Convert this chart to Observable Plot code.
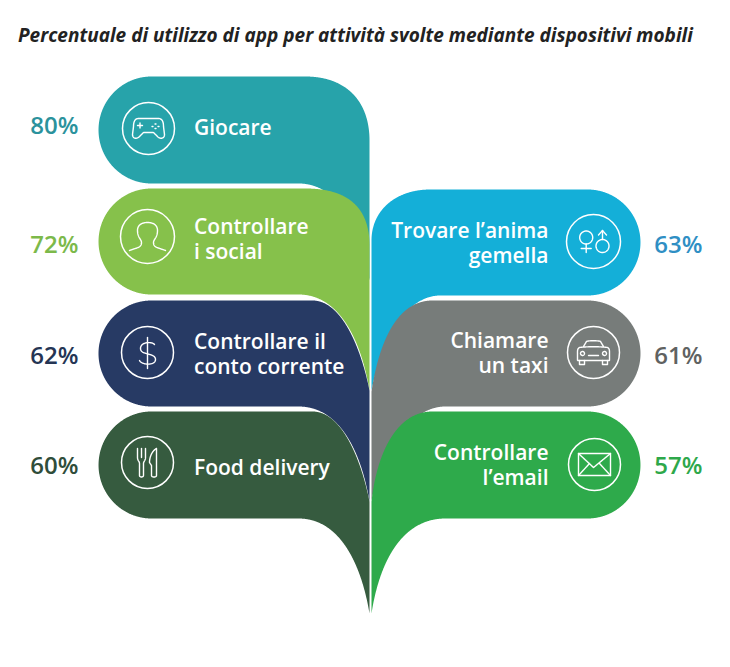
<!DOCTYPE html>
<html lang="it">
<head>
<meta charset="utf-8">
<script src="https://cdn.jsdelivr.net/npm/d3@7"></script>
<script src="https://cdn.jsdelivr.net/npm/@observablehq/plot@0.6"></script>
<style>
  html, body { margin: 0; padding: 0; background: #fff; }
  #title { height: 60px; box-sizing: border-box; padding: 24px 0 0 18px; font: italic 700 19px/22px "Open Sans", sans-serif; color: #222; white-space: nowrap; }
  svg { display: block; }
</style>
</head>
<body>
<div id="title">Percentuale di utilizzo di app per attività svolte mediante dispositivi mobili</div>
<div id="chart"></div>
<script>
// ---- data ----
const categories = ["Giocare", "Controllare\ni social", "Controllare il\nconto corrente", "Food delivery",
                    "Trovare l’anima\ngemella", "Chiamare\nun taxi", "Controllare\nl’email"];
const values = [80, 72, 62, 60, 63, 61, 57];
const sides = ["left", "left", "left", "left", "right", "right", "right"];
const icons = ["gamepad", "person", "dollar", "cutlery", "gender", "car", "mail"];
const fills = ["#27a3aa", "#86c14b", "#273a64", "#365b3f", "#14afd8", "#777c7a", "#2eaa4b"];
const valueColors = ["#2b929c", "#7cb94a", "#253554", "#2f4d3a", "#2f8fc4", "#5f6261", "#2ea84a"];

// ---- layout (page pixels) ----
const leafPaths = [
  "M151,76 H305 C345,76 369,100 369,140 V280 C361,232 340,183 298,183 H151 A53,53.5 0 0 1 151,76 Z",
  "M151,188 H305 C345,188 369,205 369,245 V390 C361,342 340,294 298,294 H151 A53,53 0 0 1 151,188 Z",
  "M151,300 H312 C342,300 361,350 369,390 V501 C361,453 340,406 298,406 H151 A53,53 0 0 1 151,300 Z",
  "M151,411 H312 C342,411 361,461 369,501 V613 C361,565 340,518 298,518 H151 A53,53.5 0 0 1 151,411 Z",
  "M371,240 C371,210 395,189 430,189 H587 A53,53 0 0 1 587,295 H440 C405,295 381,340 371,390 Z",
  "M371,391 C378,345 395,300 432,300 H587 A53,53 0 0 1 587,406 H445 C410,406 381,450 371,500 Z",
  "M371,501 C376,455 395,411 432,411 H587 A53,53.5 0 0 1 587,518 H445 C405,518 380,555 371,613 Z"
];
const layout = {
  left:  { pctX: 78,  labelX: 193.5, anchor: "start" },
  right: { pctX: 702, labelX: 548, anchor: "end" }
};
const labelY = [126.5, 238, 353, 466.5, 242, 352, 464];
const pctY = [126, 245, 356, 466, 245, 356, 466];
const iconX = [148, 147, 147, 147, 593, 593, 594];
const iconY = [128, 236, 352, 462, 241, 352, 464];
const iconR = [26, 27, 26, 26, 27, 26, 26];

function ring(cx, cy, r) {
  return `M${cx - r},${cy} A${r},${r} 0 1 1 ${cx + r},${cy} A${r},${r} 0 1 1 ${cx - r},${cy} Z`;
}
const iconPaths = {
  gamepad: "M-10,-10 C-14,-10 -15,-6 -15,-2 L-16,6 C-16,10 -12,11 -9,8 L-5,4 H5 L9,8 C12,11 16,10 16,6 L15,-2 C15,-6 14,-10 10,-10 Z M-11,-3 H-6 M-8.5,-5.5 V-0.5 M3.5,-2 H4.5 M6.5,-4.5 H7.5 M6.5,0 H7.5 M9.5,-2 H10.5",
  person: "M-18,14 C-10,11 -6,11 -6,6 C-6,3 -10,1 -10,-6 C-10,-12 -5,-14 0,-14 C5,-14 10,-12 10,-6 C10,1 6,3 6,6 C6,11 10,11 18,14",
  dollar: "M7,-8 C5,-11 -7,-11 -7,-4 C-7,3 8,0 8,7 C8,13 -5,13 -8,8 M0,-15 V16",
  cutlery: "M-10,-14 V-5 C-10,-2 -8,-1 -8,1 V13 C-8,15 -4,15 -4,13 V1 C-4,-1 -2,-2 -2,-5 V-14 M-6,-14 V-5 M9,-14 V13 C9,15 4,15 4,13 V3 L2,0 C2,-6 5,-12 9,-14 Z",
  gender: ring(-7.3, -4, 6.5) + " M-7.3,2.5 V11 M-12.3,7 H-2.3 " + ring(9, 4.5, 6.5) + " M9,-2 V-11 M5,-6.5 L9,-11 L13,-6.5",
  car: "M-10,-6 L-7,-11 C-6,-12 6,-12 7,-11 L10,-6 M-14,-5 C-16,-4 -16,-2 -16,0 V8 H16 V0 C16,-2 16,-4 14,-5 C8,-6 -8,-6 -14,-5 Z M-14,8 V12 H-9 V8 M9,8 V12 H14 V8 " + ring(-11, 1, 2) + " " + ring(11, 1, 2) + " M-5,3 H5",
  mail: "M-16,-11 H16 V11 H-16 Z M-16,-11 L-1,3 L16,-11 M-16,11 L-5,-1 M16,11 L5,-1"
};

// Trace an SVG path string into sampled points, one group per subpath.
function trace(d, dx = 0, dy = 0) {
  const subs = d.match(/M[^M]*/g);
  return subs.map(s => {
    const p = document.createElementNS("http://www.w3.org/2000/svg", "path");
    p.setAttribute("d", s);
    const n = p.getTotalLength();
    const step = 0.5;
    const pts = d3.range(0, n + step, step).map(l => {
      const q = p.getPointAtLength(Math.min(l, n));
      return [q.x + dx, q.y + dy];
    });
    return pts;
  });
}

const leaves = categories.flatMap((c, i) =>
  trace(leafPaths[i])[0].map(([x, y]) => ({ x, y, key: c, color: fills[i] })));

const iconLines = icons.flatMap((k, i) =>
  trace(iconPaths[k], iconX[i], iconY[i]).flatMap((pts, j) =>
    pts.map(([x, y]) => ({ x, y, key: `${k}-${j}` }))));

const rows = categories.map((c, i) => ({
  label: c,
  value: `${values[i]}%`,
  textX: layout[sides[i]].labelX,
  pctX: layout[sides[i]].pctX,
  anchor: layout[sides[i]].anchor,
  labelY: labelY[i],
  pctY: pctY[i],
  iconX: iconX[i],
  iconY: iconY[i],
  iconR: iconR[i],
  color: valueColors[i]
}));

const chart = Plot.plot({
  width: 730,
  height: 607,
  margin: 0,
  x: { domain: [0, 730], range: [0, 730], axis: null },
  y: { domain: [60, 667], range: [0, 607], axis: null },
  r: { type: "identity" },
  color: { type: "identity" },
  style: { fontFamily: "'Open Sans', sans-serif", background: "#fff", overflow: "visible" },
  marks: [
    Plot.line(leaves, { x: "x", y: "y", z: "key", fill: "color", stroke: null, curve: "linear" }),
    Plot.dot(rows, { x: "iconX", y: "iconY", r: "iconR", stroke: "#fff", strokeWidth: 1.5, fill: "none" }),
    Plot.line(iconLines, { x: "x", y: "y", z: "key", stroke: "#fff", strokeWidth: 1.4, curve: "linear" }),
    ...["start", "end"].map(a => Plot.text(rows.filter(r => r.anchor === a), {
      x: "textX", y: "labelY", text: "label", fill: "#fff", fontSize: 21, fontWeight: 600,
      lineHeight: 1.19, textAnchor: a
    })),
    Plot.text(rows, {
      x: "pctX", y: "pctY", text: "value", fill: "color", fontSize: 24, fontWeight: 600,
      textAnchor: "end"
    })
  ]
});
document.getElementById("chart").append(chart);
</script>
</body>
</html>
